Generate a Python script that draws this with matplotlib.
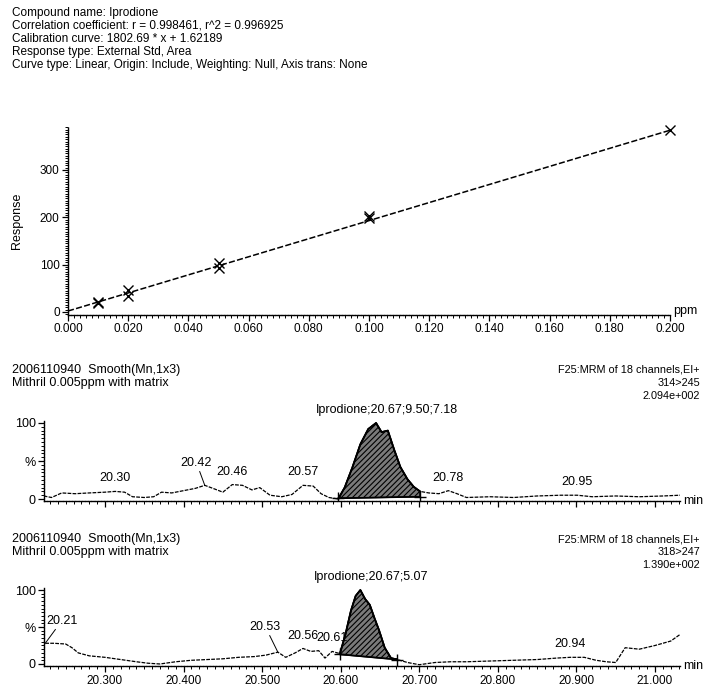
import numpy as np
import matplotlib
matplotlib.use("Agg")
import matplotlib.pyplot as plt
from matplotlib.ticker import MultipleLocator

plt.rcParams['font.family'] = ['Liberation Sans', 'DejaVu Sans']
plt.rcParams['hatch.linewidth'] = 0.8

W, H = 707, 685

# --- header text ---
header_lines = [
    "Compound name: Iprodione",
    "Correlation coefficient: r = 0.998461, r^2 = 0.996925",
    "Calibration curve: 1802.69 * x + 1.62189",
    "Response type: External Std, Area",
    "Curve type: Linear, Origin: Include, Weighting: Null, Axis trans: None",
]

# --- calibration points (ppm, response) ---
cal_conc = [0.010, 0.010, 0.020, 0.020, 0.050, 0.050, 0.100, 0.100, 0.200]
cal_resp = [19, 22, 47, 33, 103, 92, 198, 203, 384]
cal_line_x = [0.0, 0.200]
cal_line_y = [2, 384]
cal_xticks = [0.000, 0.020, 0.040, 0.060, 0.080, 0.100, 0.120, 0.140, 0.160, 0.180, 0.200]
cal_yticks = [0, 100, 200, 300]

# --- chromatogram 1 (314>245) ---
t1 = [20.222, 20.232, 20.245, 20.262, 20.280, 20.300, 20.313, 20.325, 20.335, 20.350,
      20.362, 20.372, 20.385, 20.400, 20.415, 20.427, 20.440, 20.450, 20.462, 20.475,
      20.487, 20.497, 20.510, 20.525, 20.538, 20.552, 20.565, 20.575, 20.585, 20.597,
      20.605, 20.615, 20.625, 20.635, 20.645, 20.652, 20.660, 20.668, 20.676, 20.685,
      20.693, 20.701, 20.712, 20.725, 20.737, 20.748, 20.760, 20.790, 20.820, 20.850,
      20.880, 20.901, 20.920, 20.950, 20.980, 21.010, 21.032]
y1 = [4, 2, 8, 7, 8, 9, 10, 9, 3, 2,
      3, 9, 8, 11, 14, 18, 13, 9, 19, 18,
      12, 15, 5, 3, 6, 18, 17, 7, 2, 0,
      15, 42, 72, 92, 100, 88, 90, 65, 42, 26,
      16, 10, 8, 7, 11, 7, 2, 3, 2, 4,
      5, 5, 3, 4, 3, 4, 5]
peak1_range = (20.597, 20.701)
peak1_base = (1, 3)
labels1 = [("20.30", 20.313, 10), ("20.46", 20.462, 19), ("20.57", 20.552, 18),
           ("20.78", 20.737, 11), ("20.95", 20.901, 5)]
label1_lead = [("20.42", 20.427, 18, -6, 12)]
peak1_text = "Iprodione;20.67;9.50;7.18"
info1 = ["F25:MRM of 18 channels,EI+", "314>245", "2.094e+002"]

# --- chromatogram 2 (318>247) ---
t2 = [20.224, 20.235, 20.250, 20.258, 20.266, 20.280, 20.300, 20.320, 20.340, 20.355,
      20.370, 20.390, 20.410, 20.430, 20.450, 20.470, 20.490, 20.505, 20.520, 20.530,
      20.542, 20.552, 20.562, 20.572, 20.580, 20.589, 20.599,
      20.606, 20.613, 20.619, 20.625, 20.631, 20.637, 20.643, 20.649, 20.656,
      20.664, 20.672, 20.685, 20.700, 20.720, 20.740, 20.760, 20.790, 20.820, 20.850,
      20.875, 20.892, 20.910, 20.925, 20.938, 20.950, 20.962, 20.980, 21.000, 21.020, 21.032]
y2 = [28, 28, 27, 22, 15, 11, 9, 6, 3, 1,
      0, 3, 5, 6, 7, 9, 10, 12, 16, 9,
      15, 21, 17, 18, 8, 17, 14,
      40, 72, 92, 100, 88, 80, 62, 45, 22,
      8, 6, 2, -1, 2, 3, 3, 4, 5, 6,
      8, 9, 9, 5, 3, 2, 22, 20, 25, 31, 40]
peak2_range = (20.599, 20.672)
peak2_base = (13, 6)
labels2 = [("20.56", 20.552, 21), ("20.61", 20.589, 17), ("20.94", 20.892, 9)]
label2_lead = [("20.21", 20.224, 28, 12, 12), ("20.53", 20.520, 16, -9, 14)]
peak2_text = "Iprodione;20.67;5.07"
info2 = ["F25:MRM of 18 channels,EI+", "318>247", "1.390e+002"]
title_lines = ["2006110940  Smooth(Mn,1x3)", "Mithril 0.005ppm with matrix"]

rt_ticks = [20.300, 20.400, 20.500, 20.600, 20.700, 20.800, 20.900, 21.000]
rt_lim = (20.2224, 21.0318)

fig = plt.figure(figsize=(W / 100, H / 100), dpi=100)


def px_axes(l, t, r, b):
    return fig.add_axes([l / W, 1 - b / H, (r - l) / W, (b - t) / H])


def ftext(x, y, s, **kw):
    fig.text(x / W, 1 - y / H, s, va='center', **kw)


def style_axes(ax):
    for s in ('top', 'right'):
        ax.spines[s].set_visible(False)
    for s in ('left', 'bottom'):
        ax.spines[s].set_linewidth(1.0)
        ax.spines[s].set_linestyle((0, (1.5, 0.8)))
    ax.tick_params(which='major', length=4, width=0.9, labelsize=8.5, pad=2)
    ax.tick_params(which='minor', length=2, width=0.7)
    ax.patch.set_alpha(0)


for i, s in enumerate(header_lines):
    ftext(12, 13 + 13 * i, s, fontsize=8.5)

# calibration plot
ax0 = px_axes(68, 127.4, 670, 314.8)
ax0.plot(cal_line_x, cal_line_y, color='black', lw=1.1, ls=(0, (4, 1.5)))
ax0.plot(cal_conc, cal_resp, ls='none', marker='x', ms=7, mew=1.0, color='black', clip_on=False)
ax0.set_xlim(0, 0.2)
ax0.set_ylim(-6, 390)
ax0.set_xticks(cal_xticks)
ax0.set_xticklabels([f"{v:.3f}" for v in cal_xticks])
ax0.set_yticks(cal_yticks)
ax0.xaxis.set_minor_locator(MultipleLocator(0.002))
ax0.yaxis.set_minor_locator(MultipleLocator(5))
style_axes(ax0)
ax0.set_ylabel("Response", fontsize=9, labelpad=12)
ftext(673, 311, "ppm", fontsize=9)


def chrom(top, bottom, t, y, prange, pbase, labels, leads, ptext, show_xlabels):
    ax = px_axes(44, top, 680, bottom)
    t = np.array(t)
    y = np.array(y, dtype=float)
    ax.plot(t, y, color='black', lw=0.9, ls=(0, (3, 1)))
    m = (t >= prange[0] - 1e-9) & (t <= prange[1] + 1e-9)
    tb = t[m]
    base = np.interp(tb, prange, pbase)
    ax.fill_between(tb, np.maximum(y[m], base), base, facecolor='#7a7a7a',
                    edgecolor='black', hatch='//////', lw=1.2)
    ax.plot(tb, y[m], color='black', lw=1.3)
    ax.plot(prange, pbase, color='black', lw=1.0)
    ax.plot(prange, pbase, ls='none', marker='+', ms=9, mew=1.0, color='black')
    for s, tx, ty in labels:
        ax.annotate(s, (tx, ty), xytext=(0, 5), textcoords='offset points',
                    ha='center', va='bottom', fontsize=9)
    for s, tx, ty, dx, dy in leads:
        ax.annotate(s, (tx, ty), xytext=(dx, dy), textcoords='offset points',
                    ha='center', va='bottom', fontsize=9,
                    arrowprops=dict(arrowstyle='-', lw=0.7, color='black', shrinkA=0, shrinkB=0))
    ax.set_xlim(*rt_lim)
    ax.set_ylim(-3, 103)
    ax.set_yticks([0, 50, 100])
    ax.set_yticklabels(['0', '%', '100'])
    ax.set_xticks(rt_ticks)
    if show_xlabels:
        ax.set_xticklabels([f"{v:.3f}" for v in rt_ticks])
    else:
        ax.set_xticklabels([])
    ax.xaxis.set_minor_locator(MultipleLocator(0.01))
    ax.yaxis.set_minor_locator(MultipleLocator(5))
    style_axes(ax)
    ax.tick_params(axis='y', labelsize=9)
    ax.text(1.005, 0.0, "min", transform=ax.transAxes, fontsize=9, va='center')
    # peak label above the apex
    apex_t = t[np.argmax(y)]
    ax.annotate(ptext, (apex_t, 100), xytext=(8, 5), textcoords='offset points',
                ha='center', va='bottom', fontsize=9)
    return ax


def block_text(y0, info):
    for i, s in enumerate(title_lines):
        ftext(12, y0 + 13 * i, s, fontsize=9)
    for i, s in enumerate(info):
        ftext(700, y0 + 13 * i, s, fontsize=7.8, ha='right')


ax1 = chrom(420.7, 501.3, t1, y1, peak1_range, peak1_base, labels1, label1_lead,
            peak1_text, False)
block_text(370, info1)

ax2 = chrom(587.8, 666.2, t2, y2, peak2_range, peak2_base, labels2, label2_lead,
            peak2_text, True)
block_text(539, info2)

fig.savefig("out.png", dpi=100)
